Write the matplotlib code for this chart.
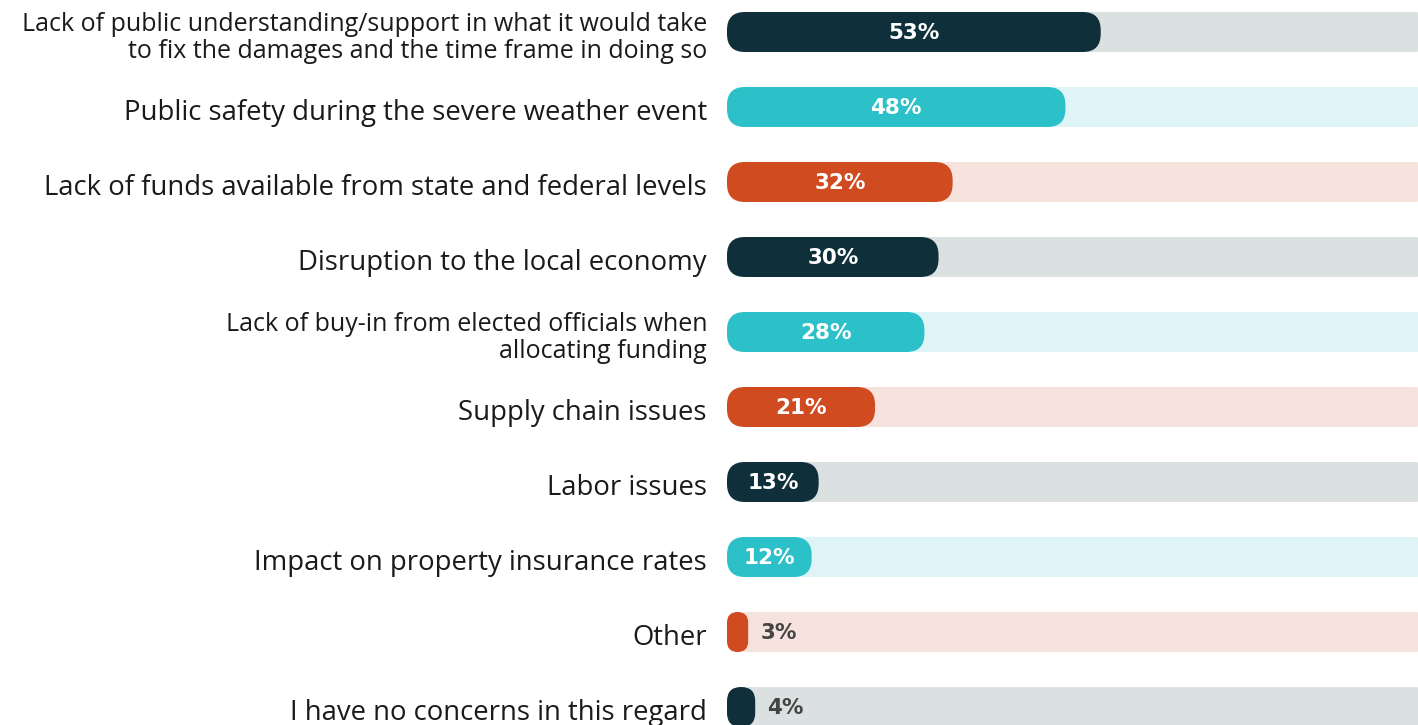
import matplotlib
matplotlib.use("Agg")
import matplotlib.pyplot as plt
from matplotlib.patches import FancyBboxPatch

# ── Data ──────────────────────────────────────────────────────────────
labels = [
    "Lack of public understanding/support in what it would take\nto fix the damages and the time frame in doing so",
    "Public safety during the severe weather event",
    "Lack of funds available from state and federal levels",
    "Disruption to the local economy",
    "Lack of buy-in from elected officials when\nallocating funding",
    "Supply chain issues",
    "Labor issues",
    "Impact on property insurance rates",
    "Other",
    "I have no concerns in this regard",
]
values = [53, 48, 32, 30, 28, 21, 13, 12, 3, 4]

# ── Colours ───────────────────────────────────────────────────────────
C_DARK, C_TEAL, C_ORANGE = "#0f303a", "#2cc0c8", "#d04b20"
T_DARK, T_TEAL, T_ORANGE = "#dbe1e1", "#dff4f6", "#f7e3de"
BAR_COLORS = [C_DARK, C_TEAL, C_ORANGE]
TRACK_COLORS = [T_DARK, T_TEAL, T_ORANGE]
C_LABEL = "#1a1a1a"
C_OUT = "#444444"

W, H, DPI = 1418, 725, 100
fig = plt.figure(figsize=(W / DPI, H / DPI), dpi=DPI, facecolor="white")

X0_PX = 727
XMAX = 98.0
ax = fig.add_axes([X0_PX / W, 0, 1 - X0_PX / W, 1])
ax.set_xlim(0, XMAX)
row_px = 75
top_px = 32
ax.set_ylim((H - top_px) / row_px, -top_px / row_px)
ax.axis("off")

px_x = (W - X0_PX) / XMAX      # pixels per % unit
px_y = row_px                  # pixels per row unit
aspect = px_x / px_y
bar_h = 40 / px_y
radius = 18 / px_x


def pill(x, y, w, color, z):
    r = min(radius, w / 2)
    p = FancyBboxPatch((x, y - bar_h / 2), w, bar_h,
                       boxstyle=f"round,pad=0,rounding_size={r}",
                       mutation_aspect=aspect, facecolor=color,
                       edgecolor="none", zorder=z)
    ax.add_patch(p)


for i, (lab, v) in enumerate(zip(labels, values)):
    pill(0, i, 100, TRACK_COLORS[i % 3], 1)
    pill(0, i, v, BAR_COLORS[i % 3], 2)
    if v >= 8:
        ax.text(v / 2, i + 1 / px_y, f"{v}%", ha="center", va="center", color="white",
                fontsize=15.5, fontweight="bold", family="DejaVu Sans", zorder=3)
    else:
        ax.text(v + 12 / px_x, i + 1 / px_y, f"{v}%", ha="left", va="center", color=C_OUT,
                fontsize=15.5, fontweight="bold", family="DejaVu Sans", zorder=3)

    two = "\n" in lab
    ax.text(-20 / px_x, i + 6 / px_y, lab, ha="right", va="center",
            fontsize=18 if two else 19.8, family="Open Sans", color=C_LABEL,
            linespacing=1.13, clip_on=False)

fig.savefig("out.png", dpi=DPI, facecolor="white")
